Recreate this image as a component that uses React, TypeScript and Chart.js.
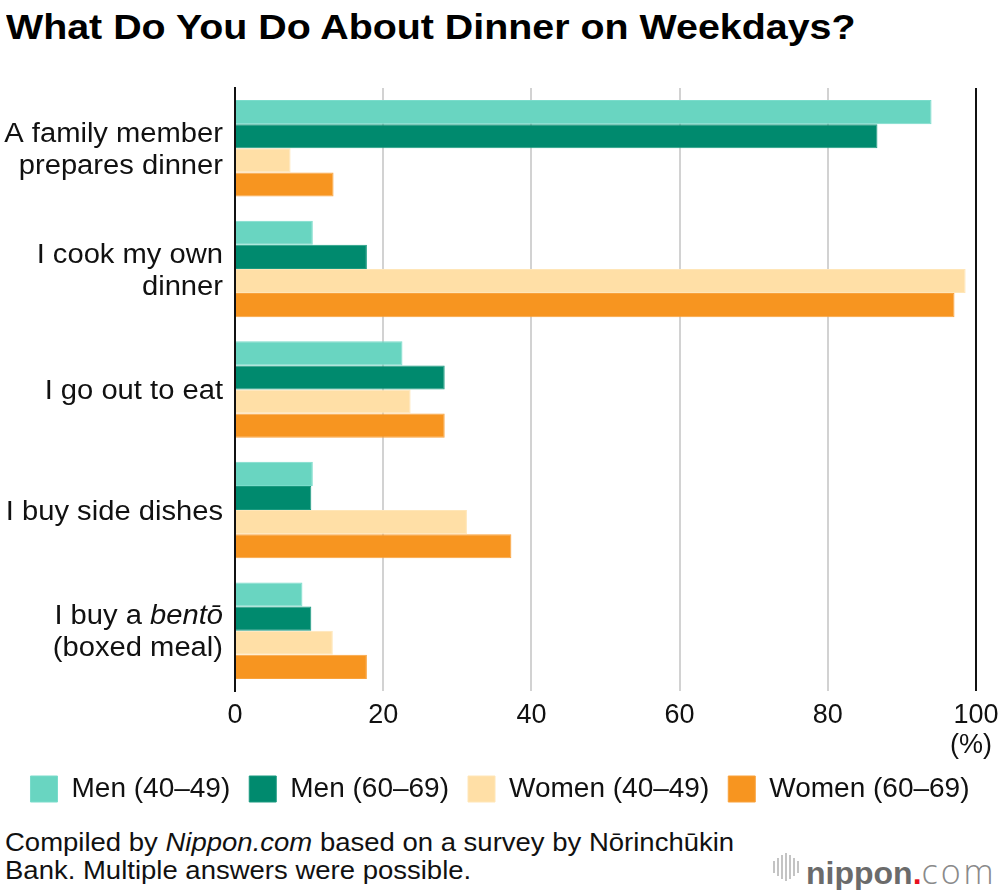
import React, { useEffect, useRef } from "react";
import { Chart, registerables } from "chart.js";

Chart.register(...registerables);

const FONT = "'Liberation Sans', Arial, Helvetica, sans-serif";

const categories: string[][] = [
  ["A family member", "prepares dinner"],
  ["I cook my own", "dinner"],
  ["I go out to eat"],
  ["I buy side dishes"],
  ["I buy a _bentō_", "(boxed meal)"],
];
const seriesNames = ["Men (40–49)", "Men (60–69)", "Women (40–49)", "Women (60–69)"];
const men4049 = [94.0, 10.5, 22.6, 10.5, 9.1];
const men6069 = [86.7, 17.8, 28.3, 10.3, 10.3];
const women4049 = [7.5, 98.6, 23.7, 31.3, 13.2];
const women6069 = [13.3, 97.1, 28.3, 37.3, 17.8];
const xTicks = [0, 20, 40, 60, 80, 100];
const unitLabel = "(%)";
const seriesColors = ["#69d5c1", "#008a6e", "#ffdfa6", "#f79520"];
const seriesBorders = ["#7adccb", "#1a9a80", "#ffe6b8", "#f9a23c"];

const titleText = "What Do You Do About Dinner on Weekdays?";
const noteLines = [
  [{ t: "Compiled by " }, { t: "Nippon.com", i: true }, { t: " based on a survey by Nōrinchūkin" }],
  [{ t: "Bank. Multiple answers were possible." }],
];

function parseSegments(line: string) {
  const parts = line.split("_");
  return parts
    .map((t, k) => ({ text: t, italic: k % 2 === 1 }))
    .filter((s) => s.text.length > 0);
}

const yLabelPlugin = {
  id: "yLabelPlugin",
  afterDraw(chart: any) {
    const { ctx, scales } = chart;
    const y = scales.y;
    const x = scales.x;
    const size = 27;
    const sx = 1.08;
    const lineGap = 32;
    const capHalf = size * 0.716 * 0.5;
    const right = x.left - 12;
    ctx.save();
    ctx.fillStyle = "#111";
    ctx.textAlign = "left";
    ctx.textBaseline = "alphabetic";
    (chart.data.labels as string[][]).forEach((lines, i) => {
      const cy = y.getPixelForValue(i);
      const n = lines.length;
      lines.forEach((line, j) => {
        const baseline = cy + (j - (n - 1) / 2) * lineGap + capHalf;
        const segs = parseSegments(line);
        const fontOf = (it: boolean) => `${it ? "italic " : ""}${size}px ${FONT}`;
        let total = 0;
        segs.forEach((s) => {
          ctx.font = fontOf(s.italic);
          total += ctx.measureText(s.text).width;
        });
        ctx.save();
        ctx.translate(right, baseline);
        ctx.scale(sx, 1);
        let cx = -total;
        segs.forEach((s) => {
          ctx.font = fontOf(s.italic);
          ctx.fillText(s.text, cx, 0);
          cx += ctx.measureText(s.text).width;
        });
        ctx.restore();
      });
    });
    ctx.font = `27px ${FONT}`;
    ctx.textAlign = "center";
    ctx.fillText(unitLabel, x.getPixelForValue(xTicks[xTicks.length - 1]) - 5, 753);
    ctx.restore();
  },
};

export default function App() {
  const canvasRef = useRef<HTMLCanvasElement | null>(null);

  useEffect(() => {
    document.body.style.margin = "0";
    const canvas = canvasRef.current;
    if (!canvas) return;
    const values = [men4049, men6069, women4049, women6069];
    const chart = new Chart(canvas, {
      type: "bar",
      data: {
        labels: categories as any,
        datasets: values.map((v, k) => ({
          label: seriesNames[k],
          data: v,
          backgroundColor: seriesColors[k],
          borderColor: seriesBorders[k],
          borderWidth: 1,
          categoryPercentage: 0.8,
          barPercentage: 1,
        })),
      },
      plugins: [yLabelPlugin],
      options: {
        indexAxis: "y",
        responsive: false,
        animation: false,
        devicePixelRatio: 1,
        layout: { padding: { top: 88, right: 0, left: 0, bottom: 7 } },
        font: { family: FONT },
        scales: {
          x: {
            type: "linear",
            min: xTicks[0],
            max: xTicks[xTicks.length - 1],
            afterBuildTicks: (scale: any) => {
              scale.ticks = xTicks.map((v) => ({ value: v }));
            },
            afterFit: (scale: any) => {
              scale.height = 65;
              scale.paddingLeft = 0;
              scale.paddingRight = 24;
            },
            ticks: {
              font: { family: FONT, size: 27 },
              color: "#111",
              padding: 8,
            },
            grid: {
              drawTicks: false,
              lineWidth: 2,
              color: (c: any) =>
                c.tick && (c.tick.value === 100 || c.tick.value === 0) ? "#111" : "#d2d2d2",
            },
            border: { display: false },
          },
          y: {
            type: "category",
            afterFit: (scale: any) => {
              scale.width = 235;
            },
            ticks: { display: false },
            grid: { display: false },
            border: { display: true, color: "#111", width: 2 },
          },
        },
        plugins: {
          title: { display: false },
          tooltip: { enabled: false },
          legend: {
            display: true,
            position: "bottom",
            labels: {
              boxWidth: 27,
              boxHeight: 26,
              padding: 19,
              color: "#111",
              font: { family: FONT, size: 28 },
            },
          },
        },
      } as any,
    });
    return () => chart.destroy();
  }, []);

  const logoBars = [12, 18, 24, 28, 24, 18, 12];

  return (
    <div style={{ position: "relative", width: 1000, height: 890, overflow: "hidden", background: "#fff" }}>
      <div
        style={{
          position: "absolute",
          left: 6,
          top: 9,
          font: `bold 35px ${FONT}`,
          lineHeight: "35px",
          color: "#000",
          whiteSpace: "nowrap",
          transform: "scaleX(1.125)",
          transformOrigin: "left top",
        }}
      >
        {titleText}
      </div>
      <canvas
        ref={canvasRef}
        width={1000}
        height={820}
        style={{ position: "absolute", left: 0, top: 0, width: 1000, height: 820 }}
      />
      <div
        style={{
          position: "absolute",
          left: 5,
          top: 828,
          font: `25px ${FONT}`,
          lineHeight: "28px",
          color: "#111",
          whiteSpace: "nowrap",
          transform: "scaleX(1.1)",
          transformOrigin: "left top",
        }}
      >
        {noteLines.map((line, k) => (
          <div key={k}>
            {line.map((s: any, m) =>
              s.i ? (
                <i key={m}>{s.t}</i>
              ) : (
                <span key={m}>{s.t}</span>
              )
            )}
          </div>
        ))}
      </div>
      <div
        style={{
          position: "absolute",
          left: 773,
          top: 853,
          height: 28,
          display: "flex",
          alignItems: "center",
          gap: 2,
        }}
      >
        {logoBars.map((h, k) => (
          <div key={k} style={{ width: 2, height: h, background: "#c4c4c4" }} />
        ))}
      </div>
      <div
        style={{
          position: "absolute",
          left: 806,
          top: 848,
          lineHeight: "32px",
          whiteSpace: "nowrap",
        }}
      >
        <span style={{ font: `bold 32px ${FONT}`, color: "#6b6b6b" }}>nippon</span>
        <span style={{ font: `bold 32px ${FONT}`, color: "#e8101e" }}>.</span>
        <span style={{ font: `300 34px 'Open Sans', sans-serif`, color: "#8a8a8a", letterSpacing: 3 }}>com</span>
      </div>
    </div>
  );
}
